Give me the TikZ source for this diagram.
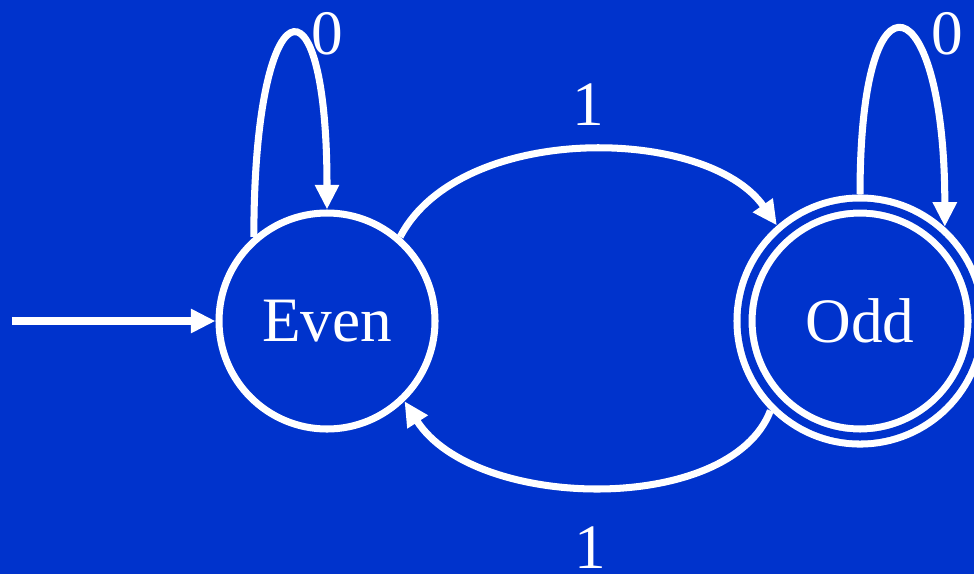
\documentclass[tikz,border=0pt]{standalone}
\usepackage{fontspec}
\setmainfont{Liberation Serif}
\usetikzlibrary{arrows.meta}
\definecolor{bgblue}{RGB}{0,51,204}

\begin{document}
\begin{tikzpicture}[
        every node/.style={text=white, font=\fontsize{18}{22}\selectfont},
        state/.style={circle, draw=white, line width=2pt, minimum size=2.16cm, inner sep=0pt},
        accept/.style={state, double=bgblue, double distance=0.08cm, minimum size=2.31cm, outer sep=3.2pt},
        trans/.style={draw=white, line width=2pt, -{Triangle[length=7pt,width=6.5pt]}}
    ]
        % background
        \path[use as bounding box, fill=bgblue](0,0)rectangle(9.74,5.74);
        \clip(0,0)rectangle(9.74,5.74);
        % states
        \node[state](even)at(3.27,2.53){Even};
        \node[accept](odd)at(8.60,2.53){Odd};
        \coordinate(start)at(0.12,2.53);
        \path[trans](start)--(even.west);
        % loops
        \path[trans](even.131)..controls +(0,2.5) and +(0,2.5)..(even.90);
        \path[trans](odd.90)..controls +(0,2.4) and +(0,2.4)..(odd.48);
        \node(zeroEven)at(3.27,5.40){0};
        \node(zeroOdd)at(9.47,5.40){0};
        % between the states
        \path[trans](even.49)..controls +(0.6,1.15) and +(-0.7,1.0)..(odd.131);
        \path[trans](odd.225)..controls +(-0.4,-1.05) and +(0.7,-1.1)..(even.-46);
        \node(oneTop)at(5.88,4.69){1};
        \node[inner sep=1pt](oneBottom)at(5.90,0.26){1};
\end{tikzpicture}
\end{document}
